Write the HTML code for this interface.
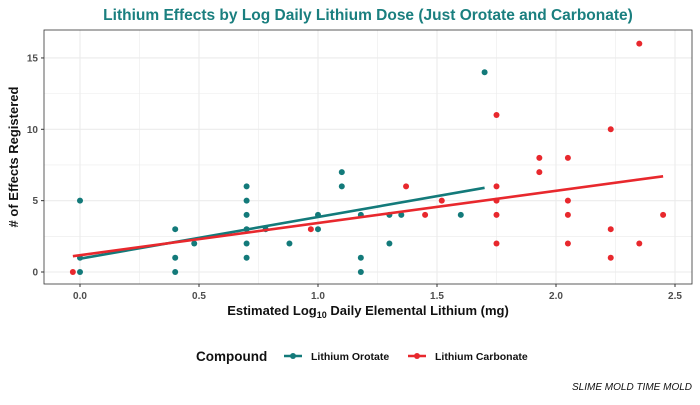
<!DOCTYPE html>
<html><head><meta charset="utf-8"><style>
body{margin:0;background:#fff;font-family:"Liberation Sans",sans-serif}
</style></head><body>
<svg id="chart" width="700" height="400" xmlns="http://www.w3.org/2000/svg" font-family="Liberation Sans, sans-serif"></svg>
<script>
const orotateX=[0,0,0,0.4,0.4,0.4,0.48,0.7,0.7,0.7,0.7,0.7,0.7,0.78,0.88,1.0,1.0,1.1,1.1,1.18,1.18,1.18,1.3,1.3,1.35,1.6,1.7];
const orotateY=[5,1,0,3,1,0,2,6,5,4,3,2,1,3,2,4,3,7,6,1,0,4,4,2,4,4,14];
const carbX=[-0.03,0.97,1.37,1.45,1.52,1.75,1.75,1.75,1.75,1.75,1.93,1.93,2.05,2.05,2.05,2.05,2.23,2.23,2.23,2.35,2.35,2.45];
const carbY=[0,3,6,4,5,11,6,5,4,2,8,7,8,5,4,2,10,3,1,16,2,4];
const xTicks=[0,0.5,1.0,1.5,2.0,2.5];
const xTickLabels=["0.0","0.5","1.0","1.5","2.0","2.5"];
const yTicks=[0,5,10,15];
const yTickLabels=["0","5","10","15"];

const svg=document.getElementById('chart');
const NS="http://www.w3.org/2000/svg";
const L=44,R=692,T=30,B=284;
const sx=v=>80+v*238;
const sy=v=>272-v*14.27;
function el(tag,attrs,parent){const e=document.createElementNS(NS,tag);for(const k in attrs)e.setAttribute(k,attrs[k]);(parent||svg).appendChild(e);return e;}

const grid=el('g',{});


for(let v=-0.25;v<=2.6;v+=0.25){const x=sx(v);if(x<L||x>R)continue;el('line',{x1:x,x2:x,y1:T,y2:B,stroke:'#ebebeb','stroke-width':xTicks.some(t=>Math.abs(t-v)<1e-6)?1.1:0.6},grid);}
for(let v=0;v<=17.5;v+=2.5){const y=sy(v);if(y<T)continue;el('line',{x1:L,x2:R,y1:y,y2:y,stroke:'#ebebeb','stroke-width':v%5===0?1.1:0.6},grid);}

const frame=el('rect',{x:L,y:T,width:R-L,height:B-T,fill:'none',stroke:'#333','stroke-width':0.8});



xTicks.forEach((t,i)=>{
  el('line',{x1:sx(t),x2:sx(t),y1:B,y2:B+3,stroke:'#333'});
  const tx=el('text',{x:sx(t),y:B+15,'text-anchor':'middle','font-size':10,'font-weight':'bold',fill:'#4d4d4d'});
  tx.textContent=xTickLabels[i];
  
  
});
yTicks.forEach((t,i)=>{
  el('line',{x1:L-3,x2:L,y1:sy(t),y2:sy(t),stroke:'#333'});
  const tx=el('text',{x:L-6,y:sy(t)+3.5,'text-anchor':'end','font-size':10,'font-weight':'bold',fill:'#4d4d4d'});
  tx.textContent=yTickLabels[i];
  
  
});

function fit(xs,ys){const n=xs.length;const mx=xs.reduce((a,b)=>a+b)/n,my=ys.reduce((a,b)=>a+b)/n;let sxy=0,sxx=0;for(let i=0;i<n;i++){sxy+=(xs[i]-mx)*(ys[i]-my);sxx+=(xs[i]-mx)**2;}const b=sxy/sxx;return [my-b*mx,b];}
function series(xs,ys,color,name){
  const g=el('g',{});
  
  
  xs.forEach((x,i)=>{const c=el('circle',{cx:sx(x),cy:sy(ys[i]),r:3,fill:color},g);
    
    });
  return g;
}
function trend(xs,ys,color,name){
  const [a,b]=fit(xs,ys);const x0=Math.min(...xs),x1=Math.max(...xs);
  const ln=el('line',{x1:sx(x0),y1:sy(a+b*x0),x2:sx(x1),y2:sy(a+b*x1),stroke:color,'stroke-width':2.6});
  
  
}
const TEAL='#137a7a',RED='#e8282d';
series(orotateX,orotateY,TEAL,'orotate');
series(carbX,carbY,RED,'carbonate');
trend(orotateX,orotateY,TEAL,'orotate');
trend(carbX,carbY,RED,'carbonate');

function text(x,y,s,attrs,name){const t=el('text',Object.assign({x:x,y:y},attrs));t.textContent=s;return t;}
text(368,20,'Lithium Effects by Log Daily Lithium Dose (Just Orotate and Carbonate)',{'text-anchor':'middle','font-size':15.5,'font-weight':'bold',fill:'#1a7f7f'},'chart-title');
const xt=text(368,315,'',{'text-anchor':'middle','font-size':13,'font-weight':'bold',fill:'#111'},'x-axis-title');
xt.innerHTML='Estimated Log<tspan font-size="9" dy="3">10</tspan><tspan dy="-3"> Daily Elemental Lithium (mg)</tspan>';
text(0,0,'# of Effects Registered',{'text-anchor':'middle','font-size':13,'font-weight':'bold',fill:'#111',transform:'translate(18,157) rotate(-90)'},'y-axis-title');

const lg=el('g',{});


text(196,361,'Compound',{'font-size':13.5,'font-weight':'bold',fill:'#111'},'legend-title');
el('line',{x1:284,x2:302,y1:356,y2:356,stroke:TEAL,'stroke-width':2.6},lg);
el('circle',{cx:293,cy:356,r:3,fill:TEAL},lg);
text(311,360,'Lithium Orotate',{'font-size':10.5,'font-weight':'bold',fill:'#111'},'legend-entry-orotate');
el('line',{x1:408,x2:426,y1:356,y2:356,stroke:RED,'stroke-width':2.6},lg);
el('circle',{cx:417,cy:356,r:3,fill:RED},lg);
text(435,360,'Lithium Carbonate',{'font-size':10.5,'font-weight':'bold',fill:'#111'},'legend-entry-carbonate');
text(692,390,'SLIME MOLD TIME MOLD',{'text-anchor':'end','font-size':10,'font-style':'italic',fill:'#111'},'caption');
</script>
</body></html>
